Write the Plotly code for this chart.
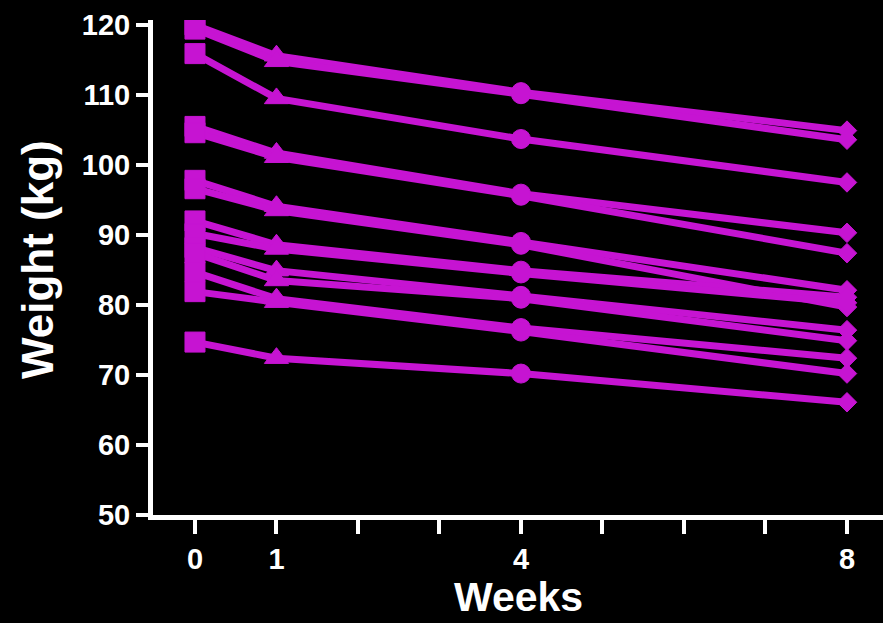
import plotly.graph_objects as go

weeks = [0, 1, 4, 8]
weight_week0 = [120.0, 119.4, 115.9, 105.5, 104.6, 97.8, 96.6, 92.0, 90.2, 88.2, 87.4, 84.7, 81.9, 74.7]
weight_week1 = [115.6, 114.8, 109.5, 101.7, 101.1, 94.1, 93.5, 88.6, 88.0, 84.9, 83.5, 80.9, 80.4, 72.4]
weight_week4 = [110.4, 110.1, 103.7, 95.9, 95.6, 89.0, 88.6, 84.9, 84.5, 81.3, 80.9, 76.7, 76.2, 70.2]
weight_week8 = [104.9, 103.6, 97.5, 90.3, 87.4, 82.1, 79.7, 81.1, 80.3, 76.4, 74.9, 72.4, 70.2, 66.1]
x_tick_vals = [0, 1, 2, 3, 4, 5, 6, 7, 8]
x_tick_text = ["0", "1", "", "", "4", "", "", "", "8"]
y_tick_vals = [50, 60, 70, 80, 90, 100, 110, 120]
x_title = "Weeks"
y_title = "Weight (kg)"

COLOR = "#C614D2"
symbols = ["square", "triangle-up", "circle", "diamond"]
sizes = [20, 21, 19, 15]

fig = go.Figure()
for i in range(len(weight_week0)):
    ys = [weight_week0[i], weight_week1[i], weight_week4[i], weight_week8[i]]
    fig.add_trace(go.Scatter(
        x=weeks, y=ys, mode="lines+markers",
        line=dict(color=COLOR, width=7),
        marker=dict(color=COLOR, symbol=symbols, size=sizes, opacity=1,
                    line=dict(width=1, color=COLOR)),
        opacity=1,
        showlegend=False, hoverinfo="skip",
    ))

font_family = "Liberation Sans, Arial, sans-serif"
fig.update_layout(
    width=883, height=623,
    paper_bgcolor="black", plot_bgcolor="black",
    margin=dict(l=153, r=0, t=20, b=108),
    showlegend=False,
    xaxis=dict(
        range=[-0.515, 8.442], showgrid=False, zeroline=False,
        showline=True, linecolor="white", linewidth=5,
        tickmode="array", tickvals=x_tick_vals, ticktext=x_tick_text,
        ticks="outside", ticklen=14, tickwidth=4, tickcolor="white",
        tickfont=dict(family=font_family, size=29, color="white", weight="bold"),
        automargin=False,
    ),
    yaxis=dict(
        range=[50, 120.7], showgrid=False, zeroline=False,
        showline=True, linecolor="white", linewidth=5,
        tickmode="array", tickvals=y_tick_vals,
        ticks="outside", ticklen=12, tickwidth=4, tickcolor="white",
        tickfont=dict(family=font_family, size=29, color="white", weight="bold"),
        automargin=False,
    ),
    annotations=[
        dict(text=x_title, xref="paper", yref="paper", x=0.5, y=-0.216,
             xanchor="center", yanchor="bottom", showarrow=False,
             font=dict(family=font_family, size=41, color="white", weight="bold")),
        dict(text=y_title, xref="paper", yref="paper", x=-0.159, y=0.517,
             xanchor="center", yanchor="middle", textangle=-90, showarrow=False,
             font=dict(family=font_family, size=44, color="white", weight="bold")),
    ],
)

fig.write_html(
    "out.html",
    config={"displayModeBar": False},
    post_script="document.body.style.margin='0';document.body.style.background='black';",
)
